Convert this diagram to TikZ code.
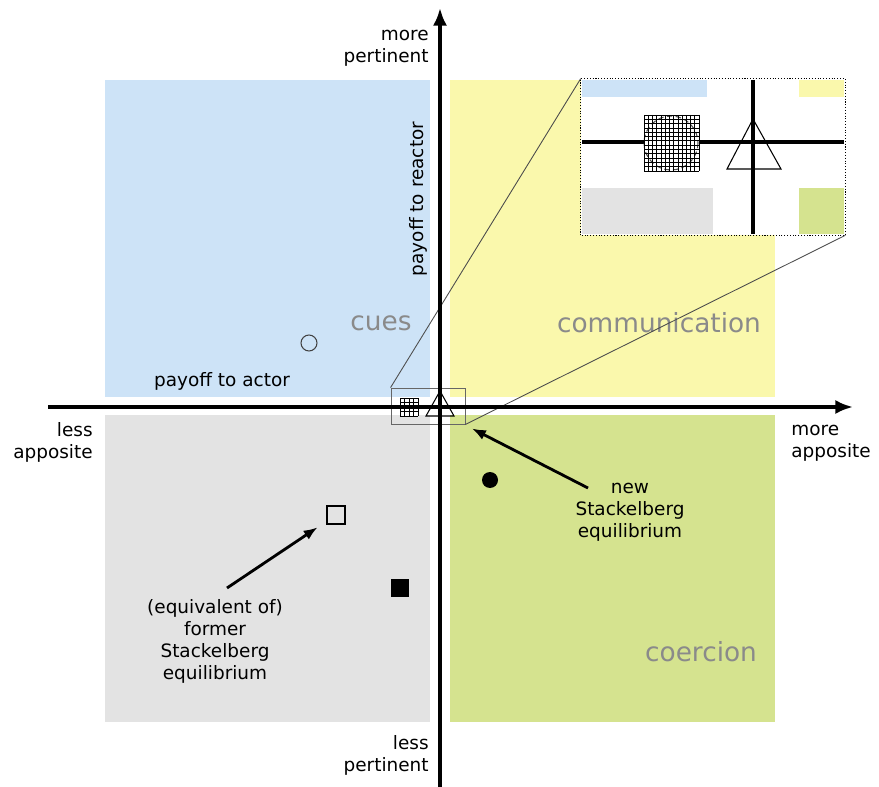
\documentclass[tikz,border=0pt]{standalone}
\usepackage{fontspec}
\setmainfont{DejaVu Sans}
\usetikzlibrary{arrows.meta}

\definecolor{cuesblue}{RGB}{205,227,247}
\definecolor{commyellow}{RGB}{250,248,172}
\definecolor{plaingray}{RGB}{227,227,227}
\definecolor{coercegreen}{RGB}{213,227,143}
\definecolor{labelgray}{RGB}{138,138,138}

\begin{document}
\begin{tikzpicture}[x=0.02cm, y=-0.02cm,
    every node/.style={font=\fontsize{10.5}{12.5}\selectfont, inner sep=0pt},
    quadlabel/.style={font=\fontsize{15}{18}\selectfont, text=labelgray},
    axis/.style={line width=2.3pt, -{Latex[length=10pt,width=8pt]}},
    pointer/.style={line width=1.6pt, -{Latex[length=8pt,width=6pt]}},
    zoomline/.style={line width=0.5pt, black!70},
    insetline/.style={line width=1.8pt}]
    \useasboundingbox (0,0) rectangle (879,787);

    % Quadrants
    \fill[cuesblue] (105,80) rectangle (430,397);
    \fill[commyellow] (450,80) rectangle (775,397);
    \fill[plaingray] (105,415) rectangle (430,722);
    \fill[coercegreen] (450,415) rectangle (775,722);

    % Quadrant labels
    \node[quadlabel] (cueslbl) at (381,323) {cues};
    \node[quadlabel] (commlbl) at (659,323) {communication};
    \node[quadlabel] (coerclbl) at (701,652) {coercion};

    % Axis labels
    \node[align=right, anchor=east] (moreP) at (429,48) {more\\pertinent};
    \node[align=right, anchor=east] (lessP) at (429,755) {less\\pertinent};
    \node[align=right, anchor=east] (lessA) at (93,442) {less\\apposite};
    \node[align=left, anchor=west] (moreA) at (791,443) {more\\apposite};
    \node[rotate=90] (reactorlbl) at (418,199) {payoff to reactor};
    \node (actorlbl) at (222,381) {payoff to actor};

    % Equilibria
    \node[circle, draw=black!75, line width=0.6pt, minimum size=0.32cm] (oldcue) at (309,343) {};
    \node[draw, line width=0.6pt, minimum size=0.36cm] (oldeq) at (336,515) {};
    \node[fill=black, minimum size=0.36cm] (coerceeq) at (400,588) {};
    \node[circle, fill=black, minimum size=0.32cm] (commeq) at (490,480) {};

    % Small hatched square and triangle near the origin
    \fill[white] (400,398) rectangle (418,416);
    \foreach \i in {0,...,4} {
        \draw[line width=0.5pt] ({400+\i*4.5},398) -- ++(0,18);
        \draw[line width=0.5pt] (400,{398+\i*4.5}) -- ++(18,0);
    }
    \draw[line width=0.6pt] (440,391) -- (426,416) -- (454,416) -- cycle;

    % Zoom box and inset
    \node[draw=black!60, line width=0.5pt, minimum width=1.48cm, minimum height=0.72cm] (zoombox) at (428,406) {};
    \node[fill=white, minimum width=5.28cm, minimum height=3.12cm] (inset) at (713,157) {};
    \fill[cuesblue] (582,80) rectangle (707,97);
    \fill[commyellow] (799,80) rectangle (844,97);
    \fill[plaingray] (582,188) rectangle (713,234);
    \fill[coercegreen] (799,188) rectangle (844,234);
    \draw[insetline] (582,142) -- (844,142);
    \draw[insetline] (753,80) -- (753,234);
    \fill[white] (644,115) rectangle (699,171);
    \draw[densely dashed, black!70, line width=0.6pt] (671,143) circle (27);
    \foreach \i in {0,...,13} {
        \draw[line width=0.4pt] ({644+\i*55/13},115) -- ++(0,56);
        \draw[line width=0.4pt] (644,{115+\i*56/13}) -- ++(55,0);
    }
    \draw[line width=0.6pt] (753,119) -- (727,169) -- (781,169) -- cycle;
    \draw[densely dotted, line width=0.6pt] (inset.south west) rectangle (inset.north east);
    \draw[zoomline] (zoombox.north west) -- (inset.north west);
    \draw[zoomline] (zoombox.south east) -- (inset.south east);

    % Axes
    \draw[axis] (48,407) -- (853,407);
    \draw[axis] (440,787) -- (440,8);

    % Annotations
    \node[align=center] (formerlbl) at (215,641) {(equivalent of)\\former\\Stackelberg\\equilibrium};
    \node[align=center] (newlbl) at (630,512) {new\\Stackelberg\\equilibrium};
    \coordinate (formertail) at (227,588);
    \coordinate (newtail) at (588,488);
    \draw[pointer, shorten >=6pt] (formertail) -- (oldeq);
    \draw[pointer, shorten >=5pt] (newtail) -- (zoombox);

\end{tikzpicture}
\end{document}
